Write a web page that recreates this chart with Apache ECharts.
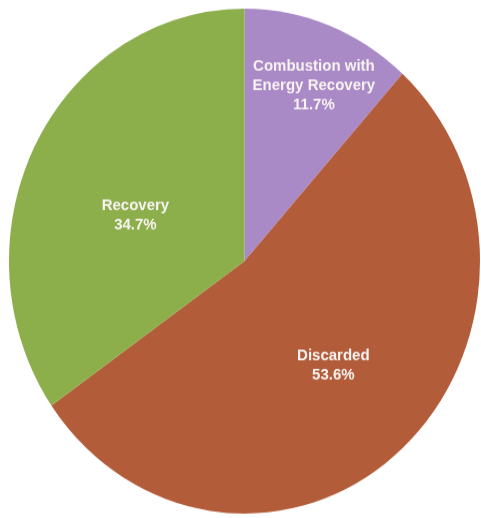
<!DOCTYPE html>
<html>
<head>
<meta charset="utf-8">
<script src="https://cdn.jsdelivr.net/npm/echarts@6/dist/echarts.min.js"></script>
<style>
html,body{margin:0;padding:0;background:#ffffff;overflow:hidden;}
#wrap{width:481px;height:518px;position:relative;overflow:hidden;}
#chart{width:481px;height:483px;transform:scaleY(1.0722);transform-origin:0 0;}
</style>
</head>
<body>
<div id="wrap"><div id="chart"></div></div>
<script>
const categories = ["Combustion with\nEnergy Recovery", "Discarded", "Recovery"];
const values = [11.7, 53.6, 34.7];
const colors = ["#aa89c7", "#b35c3a", "#8cae4b"];
const labelOffsets = [[26, -51], [9, 7], [-2, 13]];

const chart = echarts.init(document.getElementById('chart'), null, {renderer: 'canvas'});
chart.setOption({
  animation: false,
  series: [{
    type: 'pie',
    center: [244.5, 243.4],
    radius: [0, 235.5],
    startAngle: 90,
    clockwise: true,
    avoidLabelOverlap: false,
    itemStyle: {borderWidth: 0},
    label: {
      position: 'inside',
      color: '#f7f3f0',
      fontFamily: '"Liberation Sans", sans-serif',
      fontWeight: 'bold',
      fontSize: 15,
      lineHeight: 18,
      align: 'center',
      formatter: p => p.name + '\n' + p.value.toFixed(1) + '%'
    },
    labelLine: {show: false},
    data: categories.map((c, i) => ({
      name: c,
      value: values[i],
      itemStyle: {color: colors[i]},
      label: {offset: labelOffsets[i]}
    }))
  }]
});
</script>
</body>
</html>
